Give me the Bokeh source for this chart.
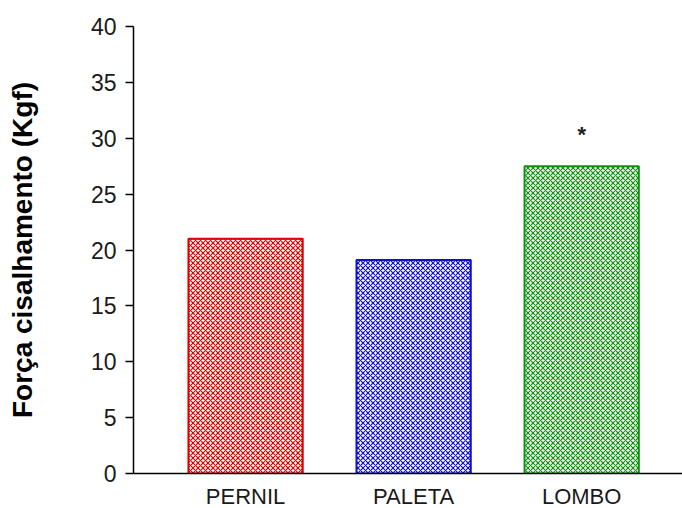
from bokeh.plotting import figure
from bokeh.models import FixedTicker, Range1d, ColumnDataSource
from bokeh.embed import file_html
from bokeh.resources import INLINE
from bokeh.core.properties import value

categories = ["PERNIL", "PALETA", "LOMBO"]
values = [21.0, 19.1, 27.5]
colors = ["#dd0000", "#1010cc", "#109010"]
star_labels = ["*"]
star_x = [2]
star_y = [30.3]
y_ticks = [0, 5, 10, 15, 20, 25, 30, 35, 40]

xs = list(range(len(categories)))
src = ColumnDataSource(dict(x=xs, top=values, color=colors))

p = figure(width=682, height=508, output_backend="svg", toolbar_location=None,
           x_range=Range1d(-0.667, 2.6), y_range=Range1d(0, 40),
           min_border_left=133, min_border_right=0, min_border_top=26, min_border_bottom=35)
p.frame_width = 549
p.frame_height = 447
p.outline_line_color = None
p.grid.visible = False
p.background_fill_color = "white"

p.vbar(x="x", top="top", width=0.68, bottom=0, source=src,
       fill_color="white", line_color="color", line_width=2,
       hatch_pattern="diagonal_cross", hatch_color="color", hatch_scale=5, hatch_weight=1.2)

p.text(x=star_x, y=star_y, text=star_labels, text_align="center", text_baseline="middle",
       text_font=value("Liberation Sans"), text_font_size="22px", text_font_style="bold",
       text_color="#222222")

p.yaxis.ticker = FixedTicker(ticks=y_ticks)
p.yaxis.minor_tick_line_color = None
p.yaxis.major_tick_out = 8
p.yaxis.major_tick_in = 0
p.yaxis.major_label_standoff = 9
p.yaxis.axis_line_width = 1.5
p.yaxis.major_tick_line_width = 1.5
p.yaxis.major_label_text_font = "Liberation Sans"
p.yaxis.major_label_text_font_size = "23px"
p.yaxis.major_label_text_color = "#1a1a1a"
p.yaxis.axis_label = "Força cisalhamento (Kgf)"
p.yaxis.axis_label_text_font = "Liberation Sans"
p.yaxis.axis_label_text_font_style = "bold"
p.yaxis.axis_label_text_font_size = "28px"
p.yaxis.axis_label_text_color = "#000000"
p.yaxis.axis_label_standoff = 50

p.xaxis.ticker = FixedTicker(ticks=xs)
p.xaxis.major_label_overrides = {i: c for i, c in zip(xs, categories)}
p.xaxis.minor_tick_line_color = None
p.xaxis.major_tick_line_color = None
p.xaxis.major_tick_out = 0
p.xaxis.major_label_standoff = 10
p.xaxis.axis_line_width = 1.5
p.xaxis.major_label_text_font = "Liberation Sans"
p.xaxis.major_label_text_font_size = "22px"
p.xaxis.major_label_text_color = "#1a1a1a"

open("out.html", "w").write(file_html(p, INLINE))
